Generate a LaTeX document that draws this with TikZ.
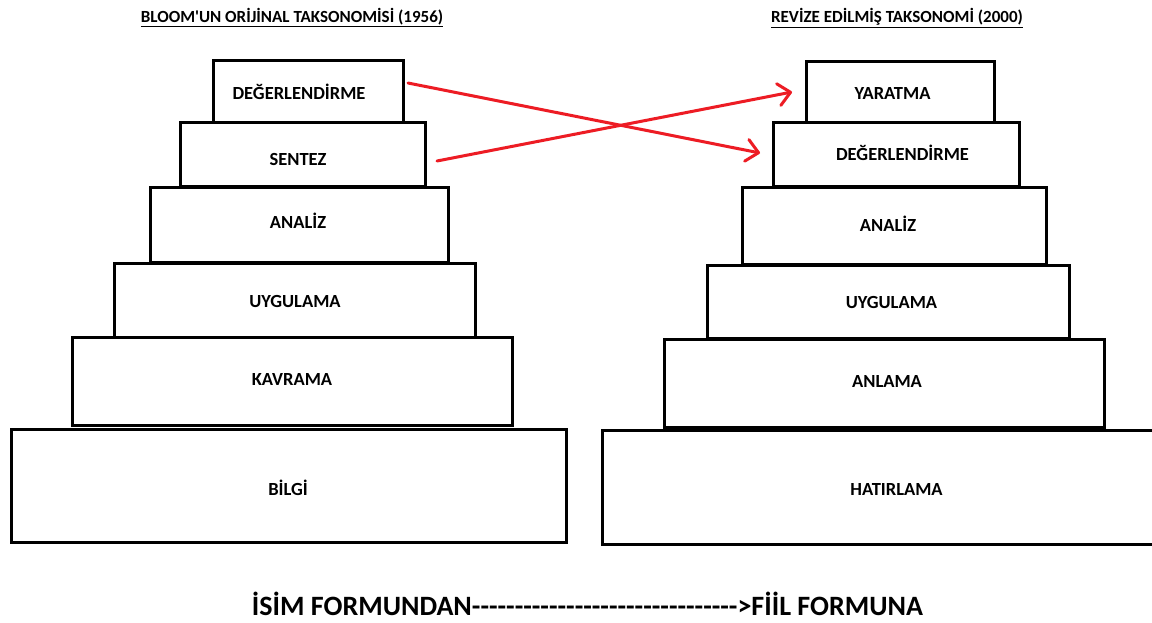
\documentclass[tikz,border=0pt]{standalone}
\usepackage{fontspec}
\newfontfamily\calfont{Carlito}
\usetikzlibrary{arrows.meta}
\definecolor{arrowred}{RGB}{237,28,36}
\begin{document}
\begin{tikzpicture}[x=1pt,y=-1pt,
  tier/.style={draw=black, line width=3pt, fill=white, inner sep=0pt, outer sep=0pt},
  lbl/.style={anchor=base, inner sep=0pt, font=\calfont\bfseries\fontsize{18.5}{21}\selectfont},
  ttl/.style={anchor=base, inner sep=0pt, font=\calfont\bfseries\fontsize{17}{20}\selectfont},
  bottomtxt/.style={anchor=base, inner sep=0pt, font=\calfont\bfseries\fontsize{28}{32}\selectfont},
  redarrow/.style={draw=arrowred, line width=3pt, line cap=round,
    -{Straight Barb[length=12pt, width=22pt, line width=3pt, line cap=round, round]}}]
\useasboundingbox (0,0) rectangle (1152,623);
\clip (0,0) rectangle (1152,623);
\fill[white] (0,0) rectangle (1152,623);

% titles
\node[ttl] (titleL) at (292,22.5) {\underline{BLOOM'UN ORİJİNAL TAKSONOMİSİ (1956)}};
\node[ttl] (titleR) at (897,22.5) {\underline{REVİZE EDİLMİŞ TAKSONOMİ (2000)}};

% left pyramid
\node[tier, minimum width=555, minimum height=113] (L1) at (288.5,486) {};
\node[tier, minimum width=440, minimum height=88] (L2) at (292,381) {};
\node[tier, minimum width=361, minimum height=74] (L3) at (294.5,300) {};
\node[tier, minimum width=298, minimum height=74] (L4) at (299,225) {};
\node[tier, minimum width=245, minimum height=64] (L5) at (302.5,155) {};
\node[tier, minimum width=190, minimum height=62] (L6) at (308,92) {};

\node[lbl] (tL6) at (299,100) {DEĞERLENDİRME};
\node[lbl] (tL5) at (298,166) {SENTEZ};
\node[lbl] (tL4) at (298,229) {ANALİZ};
\node[lbl] (tL3) at (295,307) {UYGULAMA};
\node[lbl] (tL2) at (292,385) {KAVRAMA};
\node[lbl] (tL1) at (288,495) {BİLGİ};

% right pyramid
\node[tier, minimum width=557, minimum height=114] (R1) at (881,487) {};
\node[tier, minimum width=440, minimum height=88] (R2) at (884,383) {};
\node[tier, minimum width=362, minimum height=73] (R3) at (888,301.5) {};
\node[tier, minimum width=304, minimum height=76] (R4) at (894,226) {};
\node[tier, minimum width=246, minimum height=64] (R5) at (896,155) {};
\node[tier, minimum width=188, minimum height=61] (R6) at (900,92.5) {};

\node[lbl] (tR6) at (892.5,100) {YARATMA};
\node[lbl] (tR5) at (902.5,161) {DEĞERLENDİRME};
\node[lbl] (tR4) at (888,231) {ANALİZ};
\node[lbl] (tR3) at (891.5,308) {UYGULAMA};
\node[lbl] (tR2) at (887,387) {ANLAMA};
\node[lbl] (tR1) at (896.5,495) {HATIRLAMA};

% arrows
\draw[redarrow] ([shift={(5,-9)}]L6.east) -- ([shift={(-13,-2)}]R5.west);
\draw[redarrow] ([shift={(12,6)}]L5.east) -- ([shift={(-14,-0.5)}]R6.west);

% bottom text
\node[bottomtxt] (bottom) at (587.5,615) {İSİM FORMUNDAN------------------------------->FİİL FORMUNA};
\end{tikzpicture}
\end{document}
